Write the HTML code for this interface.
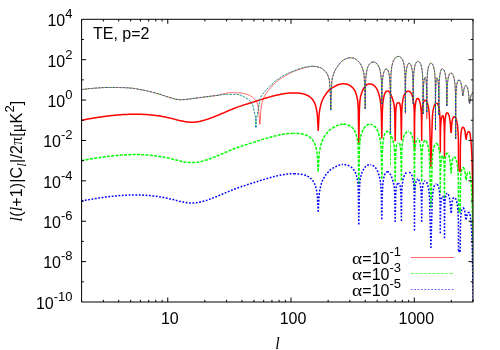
<!DOCTYPE html><html><head><meta charset="utf-8"><style>
html,body{margin:0;padding:0;background:#fff}
#w{position:relative;width:500px;height:350px;overflow:hidden;background:#fff;font-family:"Liberation Sans",sans-serif;color:#000;font-size:16px}
.t{position:absolute;white-space:nowrap;line-height:1}
#tx{position:absolute;left:0;top:0;width:500px;height:350px;will-change:transform;transform:translateZ(0)}
.yl{right:427.5px;text-align:right}
.sy{font-family:"Liberation Serif",serif}
.al{display:inline-block;width:10.1px;text-align:left;transform:scaleX(1.2);transform-origin:0 50%}
.s{font-size:13px;position:relative;top:-8px;line-height:0}
.it{font-family:"Liberation Serif",serif;font-style:italic}
.sub{font-size:13px;position:relative;top:4px;line-height:0}

</style></head><body><div id="w">
<svg width="500" height="350" viewBox="0 0 500 350" style="position:absolute;left:0;top:0">
<defs><clipPath id="c"><rect x="81.60" y="19.30" width="391.40" height="282.70"/></clipPath></defs>
<g clip-path="url(#c)" fill="none" stroke-linejoin="round" stroke-linecap="butt">
<path d="M81.5,120.2L82.5,120.0L83.5,119.9L84.5,119.7L85.5,119.5L86.5,119.3L87.5,119.1L88.5,119.0L89.5,118.8L90.5,118.6L91.5,118.4L92.5,118.3L93.5,118.1L94.5,118.0L95.5,117.8L96.5,117.6L97.5,117.5L98.5,117.3L99.5,117.2L100.5,117.0L101.5,116.9L102.5,116.7L103.5,116.6L104.4,116.5L105.4,116.3L106.4,116.2L107.4,116.1L108.4,116.0L109.4,115.8L110.4,115.7L111.4,115.6L112.4,115.5L113.4,115.4L114.4,115.3L115.4,115.2L116.4,115.1L117.4,115.0L118.4,114.9L119.4,114.8L120.4,114.8L121.4,114.7L122.4,114.6L123.4,114.6L124.4,114.5L125.4,114.5L126.4,114.4L127.4,114.4L128.4,114.3L129.4,114.3L130.4,114.3L131.4,114.2L132.4,114.2L133.4,114.2L134.4,114.2L135.4,114.2L136.4,114.2L137.4,114.2L138.4,114.2L139.4,114.2L140.4,114.3L141.4,114.3L142.4,114.3L143.4,114.4L144.4,114.4L145.4,114.5L146.4,114.6L147.4,114.6L148.3,114.7L149.3,114.8L150.3,114.9L151.3,115.0L152.3,115.1L153.3,115.2L154.3,115.3L155.3,115.4L156.3,115.5L157.3,115.7L158.3,115.8L159.3,116.0L160.3,116.1L161.3,116.3L162.3,116.5L163.3,116.7L164.3,116.8L165.3,117.0L166.3,117.2L167.3,117.5L168.3,117.7L169.3,117.9L170.3,118.1L171.3,118.4L172.3,118.6L173.3,118.9L174.3,119.1L175.3,119.4L176.3,119.7L177.3,119.9L178.3,120.2L179.3,120.4L180.3,120.7L181.3,120.9L182.3,121.1L183.3,121.3L184.3,121.5L185.3,121.7L186.3,121.8L187.3,122.0L188.3,122.1L189.3,122.1L190.3,122.2L191.3,122.2L192.2,122.2L193.2,122.2L194.2,122.2L195.2,122.1L196.2,122.0L197.2,121.8L198.2,121.7L199.2,121.5L200.2,121.3L201.2,121.0L202.2,120.8L203.2,120.5L204.2,120.2L205.2,119.9L206.2,119.6L207.2,119.3L208.2,119.0L209.2,118.6L210.2,118.3L211.2,117.9L212.2,117.5L213.2,117.1L214.2,116.7L215.2,116.3L216.2,115.9L217.2,115.5L218.2,115.1L219.2,114.7L220.2,114.3L221.2,113.8L222.2,113.4L223.2,113.0L224.2,112.6L225.2,112.1L226.2,111.7L227.2,111.3L228.2,110.8L229.2,110.4L230.2,110.0L231.2,109.6L232.2,109.2L233.2,108.8L234.2,108.4L235.2,108.0L236.2,107.6L237.1,107.3L238.1,106.9L239.1,106.6L240.1,106.2L241.1,105.9L242.1,105.6L243.1,105.2L244.1,104.9L245.1,104.6L246.1,104.3L247.1,104.0L248.1,103.7L249.1,103.3L250.1,103.0L251.1,102.7L252.1,102.4L253.1,102.1L254.1,101.8L255.1,101.5L256.1,101.1L257.1,100.8L258.1,100.5L259.1,100.2L260.1,99.9L261.1,99.6L262.1,99.2L263.1,98.9L264.1,98.6L265.1,98.3L266.1,98.0L267.1,97.7L268.1,97.4L269.1,97.1L270.1,96.9L271.1,96.6L272.1,96.3L273.1,96.1L274.1,95.8L275.1,95.6L276.1,95.3L277.1,95.1L278.1,94.9L279.1,94.7L280.1,94.5L281.0,94.3L282.0,94.1L283.0,93.9L284.0,93.7L285.0,93.6L286.0,93.5L287.0,93.3L288.0,93.2L289.0,93.1L290.0,93.1L291.0,93.0L292.0,93.0L293.0,92.9L294.0,92.9M318.2,131.0L317.4,116.0L316.9,111.8L316.4,108.8L315.9,106.7L315.4,105.0L314.9,103.7L314.4,102.6L313.9,101.7L313.4,100.8L312.9,100.0L312.4,99.3L311.9,98.7L311.4,98.2L310.9,97.8L310.4,97.3L310.0,97.0L309.5,96.6L309.0,96.3L308.5,96.0L308.0,95.7L307.5,95.4L307.0,95.2L306.5,95.0L306.0,94.8L305.5,94.6L305.0,94.4L304.5,94.2L304.0,94.0L303.5,93.9L303.0,93.8L302.0,93.6L301.0,93.4L300.0,93.3L299.0,93.2L298.0,93.1L297.0,93.0L296.0,93.0L295.0,92.9L294.0,92.9M318.2,131.0L319.0,116.0L319.5,111.3L320.0,108.4L320.5,106.2L321.0,104.3L321.5,102.5L322.0,101.0L322.5,99.9L323.0,98.8L323.5,97.9L324.0,97.0L324.5,96.2L325.0,95.3L325.5,94.6L326.0,93.8L326.5,93.2L327.0,92.6L327.5,92.0L328.0,91.4L328.5,90.9L328.9,90.4L329.4,89.9L329.9,89.4L330.4,89.1L330.9,88.7L331.4,88.4L331.9,88.0L332.4,87.7L332.9,87.4L333.4,87.2L333.9,86.9L334.4,86.6L334.9,86.3L335.4,86.1L335.9,85.8L336.4,85.5L336.9,85.3L337.4,85.0L337.9,84.8L338.4,84.7L338.9,84.5L339.4,84.4L339.9,84.2L340.4,84.1L340.9,84.0L341.4,83.9L341.9,83.9L342.4,83.8L342.9,83.8M358.8,143.6L358.3,110.0L357.8,101.4L357.3,98.6L356.8,96.5L356.3,94.4L355.8,92.9L355.3,91.7L354.8,90.7L354.3,89.9L353.8,89.1L353.3,88.5L352.8,87.8L352.3,87.3L351.8,86.9L351.3,86.4L350.8,86.1L350.3,85.7L349.8,85.4L349.3,85.2L348.8,84.9L348.4,84.7L347.9,84.5L347.4,84.3L346.9,84.2L346.4,84.1L345.9,84.0L345.4,83.9L344.9,83.9L344.4,83.8L343.9,83.8L343.4,83.8L342.9,83.8M358.8,143.6L359.4,110.0L359.9,100.8L360.4,97.4L360.9,95.4L361.4,93.7L361.9,92.3L362.4,91.0L362.9,89.9L363.4,88.9L363.9,88.0L364.4,87.2L364.9,86.6L365.4,86.0L365.9,85.5L366.4,85.1L366.9,84.7L367.4,84.4L367.9,84.2L368.4,84.1L368.9,84.0L369.4,84.0L369.9,83.9L370.4,83.9M381.8,138.4L381.3,113.0L380.8,104.4L380.3,100.5L379.8,97.8L379.3,95.7L378.8,93.9L378.3,92.3L377.8,91.0L377.3,89.8L376.8,88.9L376.3,88.1L375.8,87.4L375.3,86.8L374.8,86.2L374.3,85.8L373.8,85.3L373.3,85.0L372.8,84.7L372.3,84.5L371.8,84.2L371.3,84.1L370.8,83.9L370.4,83.9M381.8,138.4L382.3,113.0L382.8,103.6L383.3,99.7L383.8,97.1L384.3,95.0L384.8,93.6L385.3,92.5L385.8,91.8L386.3,91.4L386.8,91.1L387.3,90.9L387.8,90.9M395.2,141.3L394.7,113.0L394.2,105.2L393.7,103.0L393.2,101.3L392.7,99.5L392.2,97.8L391.7,96.5L391.2,95.3L390.7,94.2L390.2,93.3L389.7,92.5L389.2,91.8L388.7,91.4L388.3,91.1L387.8,90.9M395.2,141.3L395.7,113.0L396.2,106.8L396.7,104.1L397.3,103.2L397.8,102.8L398.3,102.6M401.4,140.2L400.9,113.0L400.4,106.8L399.9,104.0L399.3,103.0L398.8,102.7L398.3,102.6M401.4,140.2L401.7,112.4L401.9,108.7L402.1,105.7L402.4,103.2L402.7,101.1L403.0,99.3L403.3,97.8L403.7,96.5L404.1,95.3L404.5,94.4L405.0,93.5L405.4,92.9L405.9,92.3L406.4,91.9L406.9,91.5L407.4,91.3L407.9,91.2M414.5,149.7L414.2,111.2L414.0,107.4L413.8,104.5L413.5,102.0L413.2,100.0L412.9,98.3L412.6,96.8L412.2,95.6L411.8,94.5L411.4,93.7L410.9,92.9L410.5,92.3L410.0,91.9L409.5,91.5L409.0,91.3L408.5,91.2L407.9,91.2M414.5,149.7L414.6,122.1L414.7,117.2L414.8,113.5L414.9,110.6L415.0,108.2L415.2,106.2L415.4,104.6L415.6,103.2L415.8,102.0L416.0,101.1L416.2,100.3L416.5,99.6L416.7,99.1L417.0,98.8L417.3,98.5L417.5,98.4L417.8,98.4M421.7,141.0L421.5,121.0L421.4,117.2L421.3,114.1L421.2,111.6L421.0,109.4L420.8,107.6L420.6,106.0L420.4,104.6L420.2,103.4L420.0,102.3L419.7,101.4L419.5,100.7L419.2,100.0L418.9,99.5L418.7,99.0L418.4,98.7L418.1,98.5L417.8,98.4M421.7,141.0L421.8,123.1L421.9,118.2L422.0,114.6L422.1,111.7L422.3,109.3L422.5,107.4L422.7,105.8L422.9,104.5L423.1,103.4L423.4,102.5L423.7,101.8L423.9,101.2L424.2,100.8L424.5,100.5L424.8,100.3L425.2,100.3M430.9,167.3L429.7,124.1L429.6,120.3L429.5,117.2L429.3,114.6L429.1,112.4L428.9,110.5L428.7,108.8L428.5,107.4L428.2,106.1L427.9,105.0L427.7,104.0L427.4,103.1L427.1,102.4L426.8,101.8L426.4,101.3L426.1,100.9L425.8,100.6L425.5,100.4L425.2,100.3M430.9,167.3L432.1,125.0L432.2,121.3L432.4,118.2L432.5,115.7L432.7,113.6L432.9,111.8L433.1,110.2L433.4,108.9L433.6,107.7L433.9,106.7L434.2,105.8L434.5,105.1L434.8,104.5L435.1,104.0L435.4,103.7L435.8,103.4L436.1,103.2L436.4,103.2M440.3,152.4L440.1,122.6L440.0,118.9L439.8,116.0L439.7,113.6L439.5,111.5L439.3,109.9L439.1,108.4L438.8,107.2L438.6,106.2L438.3,105.4L438.0,104.7L437.7,104.2L437.4,103.7L437.1,103.4L436.8,103.3L436.4,103.2M440.3,152.4L440.4,137.8L440.5,134.0L440.5,130.9L440.6,128.4L440.7,126.3L440.8,124.4L440.9,122.9L441.0,121.5L441.2,120.3L441.3,119.3L441.4,118.4L441.6,117.6L441.8,117.0L441.9,116.5L442.1,116.1L442.2,115.8L442.4,115.6L442.6,115.5M444.5,157.5L444.4,139.5L444.4,134.6L444.3,130.9L444.3,127.9L444.2,125.5L444.1,123.5L444.0,121.9L443.9,120.5L443.8,119.3L443.6,118.3L443.5,117.5L443.4,116.8L443.2,116.3L443.0,115.9L442.9,115.7L442.7,115.5L442.6,115.5M444.5,157.5L444.6,135.3L444.7,130.5L444.8,126.8L444.9,123.9L445.0,121.6L445.1,119.7L445.3,118.1L445.5,116.8L445.7,115.7L445.9,114.8L446.1,114.1L446.3,113.5L446.5,113.1L446.8,112.9L447.0,112.7L447.3,112.7M458.5,169.8L458.4,140.4L458.3,136.6L458.1,133.5L458.0,130.9L457.8,128.7L457.7,126.8L457.5,125.2L457.2,123.7L457.0,122.5L456.8,121.3L456.5,120.4L456.3,119.5L456.0,118.8L455.7,118.2L455.4,117.6L455.1,117.2L454.8,117.0L454.5,116.8L454.2,116.7L454.0,116.7L453.7,116.9L453.4,117.2L453.1,117.6L452.9,118.2L452.6,118.9L452.4,119.8L452.2,120.9L452.0,122.2L451.8,123.8L451.6,125.8L451.5,128.1L451.4,131.0L451.1,132.6L450.7,129.8L450.6,127.2L450.5,125.0L450.3,123.1L450.1,121.4L449.9,120.0L449.7,118.7L449.5,117.5L449.3,116.5L449.1,115.7L448.8,114.9L448.6,114.3L448.3,113.7L448.1,113.3L447.8,113.0L447.5,112.8L447.3,112.7M458.5,169.8L460.2,171.8L460.4,146.5L460.5,142.8L460.6,139.8L460.7,137.4L460.8,135.4L461.0,133.7L461.1,132.3L461.3,131.1L461.5,130.1L461.7,129.2L461.9,128.6L462.1,128.0L462.3,127.6L462.5,127.3L462.8,127.2L463.0,127.1M463.0,127.1L463.2,127.2L463.5,127.3L463.7,127.6L463.9,128.0L464.1,128.4L464.4,129.0L464.6,129.8L464.8,130.6L465.0,131.7L465.2,132.8L465.3,134.2L465.5,135.7L465.6,137.6L466.2,139.3L466.8,135.0L467.3,133.2L467.8,132.3L468.3,131.8L468.9,131.7L469.4,131.8L469.9,132.9L470.4,136.6L470.9,140.3L471.4,146.9L472.0,158.9L472.5,179.6L473.0,209.8L473.5,240.0" stroke="#ff0000" stroke-width="1.5"/>
<path d="M81.5,160.6L82.5,160.4L83.5,160.2L84.5,160.1L85.5,159.9L86.5,159.7L87.5,159.5L88.5,159.3L89.5,159.2L90.5,159.0L91.5,158.8L92.5,158.7L93.5,158.5L94.5,158.3L95.5,158.2L96.5,158.0L97.5,157.9L98.5,157.7L99.5,157.6L100.5,157.4L101.5,157.3L102.5,157.1L103.5,157.0L104.4,156.9L105.4,156.7L106.4,156.6L107.4,156.5L108.4,156.3L109.4,156.2L110.4,156.1L111.4,156.0L112.4,155.9L113.4,155.8L114.4,155.7L115.4,155.6L116.4,155.5L117.4,155.4L118.4,155.3L119.4,155.2L120.4,155.2L121.4,155.1L122.4,155.0L123.4,155.0L124.4,154.9L125.4,154.8L126.4,154.8L127.4,154.8L128.4,154.7L129.4,154.7L130.4,154.7L131.4,154.6L132.4,154.6L133.4,154.6L134.4,154.6L135.4,154.6L136.4,154.6L137.4,154.6L138.4,154.6L139.4,154.6L140.4,154.7L141.4,154.7L142.4,154.7L143.4,154.8L144.4,154.8L145.4,154.9L146.4,154.9L147.4,155.0L148.3,155.1L149.3,155.2L150.3,155.3L151.3,155.4L152.3,155.5L153.3,155.6L154.3,155.7L155.3,155.8L156.3,155.9L157.3,156.1L158.3,156.2L159.3,156.4L160.3,156.5L161.3,156.7L162.3,156.9L163.3,157.0L164.3,157.2L165.3,157.4L166.3,157.6L167.3,157.8L168.3,158.1L169.3,158.3L170.3,158.5L171.3,158.8L172.3,159.0L173.3,159.3L174.3,159.5L175.3,159.8L176.3,160.0L177.3,160.3L178.3,160.6L179.3,160.8L180.3,161.1L181.3,161.3L182.3,161.5L183.3,161.7L184.3,161.9L185.3,162.1L186.3,162.2L187.3,162.3L188.3,162.4L189.3,162.5L190.3,162.6L191.3,162.6L192.2,162.6L193.2,162.6L194.2,162.5L195.2,162.5L196.2,162.4L197.2,162.2L198.2,162.1L199.2,161.9L200.2,161.7L201.2,161.4L202.2,161.2L203.2,160.9L204.2,160.6L205.2,160.3L206.2,160.0L207.2,159.7L208.2,159.4L209.2,159.0L210.2,158.7L211.2,158.3L212.2,157.9L213.2,157.5L214.2,157.1L215.2,156.7L216.2,156.3L217.2,155.9L218.2,155.5L219.2,155.1L220.2,154.7L221.2,154.2L222.2,153.8L223.2,153.4L224.2,152.9L225.2,152.5L226.2,152.1L227.2,151.7L228.2,151.2L229.2,150.8L230.2,150.4L231.2,150.0L232.2,149.6L233.2,149.2L234.2,148.8L235.2,148.4L236.2,148.0L237.1,147.7L238.1,147.3L239.1,147.0L240.1,146.6L241.1,146.3L242.1,145.9L243.1,145.6L244.1,145.3L245.1,145.0L246.1,144.7L247.1,144.4L248.1,144.0L249.1,143.7L250.1,143.4L251.1,143.1L252.1,142.8L253.1,142.5L254.1,142.2L255.1,141.8L256.1,141.5L257.1,141.2L258.1,140.9L259.1,140.6L260.1,140.3L261.1,139.9L262.1,139.6L263.1,139.3L264.1,139.0L265.1,138.7L266.1,138.4L267.1,138.1L268.1,137.8L269.1,137.5L270.1,137.3L271.1,137.0L272.1,136.7L273.1,136.4L274.1,136.2L275.1,135.9L276.1,135.7L277.1,135.5L278.1,135.3L279.1,135.0L280.1,134.8L281.0,134.6L282.0,134.5L283.0,134.3L284.0,134.1L285.0,134.0L286.0,133.9L287.0,133.7L288.0,133.6L289.0,133.5L290.0,133.5L291.0,133.4L292.0,133.4L293.0,133.3L294.0,133.3M318.2,171.4L317.4,156.4L316.9,152.2L316.4,149.2L315.9,147.1L315.4,145.4L314.9,144.1L314.4,143.0L313.9,142.0L313.4,141.2L312.9,140.4L312.4,139.7L311.9,139.1L311.4,138.6L310.9,138.1L310.4,137.7L310.0,137.4L309.5,137.0L309.0,136.7L308.5,136.4L308.0,136.1L307.5,135.8L307.0,135.6L306.5,135.4L306.0,135.1L305.5,134.9L305.0,134.8L304.5,134.6L304.0,134.4L303.5,134.3L303.0,134.2L302.0,134.0L301.0,133.8L300.0,133.7L299.0,133.6L298.0,133.5L297.0,133.4L296.0,133.4L295.0,133.3L294.0,133.3M318.2,171.4L319.0,156.4L319.5,151.7L320.0,148.8L320.5,146.6L321.0,144.7L321.5,142.9L322.0,141.4L322.5,140.2L323.0,139.2L323.5,138.3L324.0,137.4L324.5,136.6L325.0,135.7L325.5,135.0L326.0,134.2L326.5,133.6L327.0,133.0L327.5,132.4L328.0,131.8L328.5,131.3L328.9,130.8L329.4,130.3L329.9,129.8L330.4,129.4L330.9,129.1L331.4,128.7L331.9,128.4L332.4,128.1L332.9,127.8L333.4,127.5L333.9,127.3L334.4,127.0L334.9,126.7L335.4,126.5L335.9,126.2L336.4,125.9L336.9,125.7L337.4,125.4L337.9,125.2L338.4,125.0L338.9,124.9L339.4,124.7L339.9,124.6L340.4,124.5L340.9,124.4L341.4,124.3L341.9,124.3L342.4,124.2L342.9,124.2M358.8,184.0L358.3,150.4L357.8,141.8L357.3,139.0L356.8,136.9L356.3,134.8L355.8,133.3L355.3,132.1L354.8,131.1L354.3,130.3L353.8,129.5L353.3,128.8L352.8,128.2L352.3,127.7L351.8,127.2L351.3,126.8L350.8,126.5L350.3,126.1L349.8,125.8L349.3,125.5L348.8,125.3L348.4,125.1L347.9,124.9L347.4,124.7L346.9,124.6L346.4,124.4L345.9,124.4L345.4,124.3L344.9,124.3L344.4,124.2L343.9,124.2L343.4,124.2L342.9,124.2M358.8,184.0L359.4,150.4L359.9,141.2L360.4,137.7L360.9,135.8L361.4,134.1L361.9,132.7L362.4,131.4L362.9,130.3L363.4,129.3L363.9,128.4L364.4,127.6L364.9,127.0L365.4,126.4L365.9,125.9L366.4,125.5L366.9,125.1L367.4,124.8L367.9,124.6L368.4,124.5L368.9,124.4L369.4,124.4L369.9,124.3L370.4,124.3M381.8,178.8L381.3,153.4L380.8,144.8L380.3,140.9L379.8,138.2L379.3,136.0L378.8,134.3L378.3,132.7L377.8,131.4L377.3,130.2L376.8,129.3L376.3,128.5L375.8,127.7L375.3,127.1L374.8,126.6L374.3,126.1L373.8,125.7L373.3,125.4L372.8,125.1L372.3,124.9L371.8,124.6L371.3,124.4L370.8,124.3L370.4,124.3M381.8,178.8L382.3,153.4L382.8,144.0L383.3,140.1L383.8,137.4L384.3,135.3L384.8,134.0L385.3,132.9L385.8,132.2L386.3,131.8L386.8,131.5L387.3,131.3L387.8,131.3M395.2,181.7L394.7,153.4L394.2,145.6L393.7,143.4L393.2,141.7L392.7,139.9L392.2,138.2L391.7,136.9L391.2,135.7L390.7,134.6L390.2,133.7L389.7,132.9L389.2,132.2L388.7,131.8L388.3,131.5L387.8,131.3M395.2,181.7L395.7,153.4L396.2,147.2L396.7,144.4L397.3,143.6L397.8,143.2L398.3,143.0M401.4,180.6L400.9,153.4L400.4,147.2L399.9,144.4L399.3,143.4L398.8,143.1L398.3,143.0M401.4,180.6L401.7,152.8L401.9,149.1L402.1,146.0L402.4,143.6L402.7,141.5L403.0,139.7L403.3,138.2L403.7,136.8L404.1,135.7L404.5,134.7L405.0,133.9L405.4,133.2L405.9,132.7L406.4,132.2L406.9,131.9L407.4,131.7L407.9,131.6M414.5,190.1L414.2,151.6L414.0,147.8L413.8,144.9L413.5,142.4L413.2,140.4L412.9,138.7L412.6,137.2L412.2,136.0L411.8,134.9L411.4,134.0L410.9,133.3L410.5,132.7L410.0,132.3L409.5,131.9L409.0,131.7L408.5,131.6L407.9,131.6M414.5,190.1L414.6,162.5L414.7,157.6L414.8,153.9L414.9,151.0L415.0,148.6L415.2,146.6L415.4,145.0L415.6,143.6L415.8,142.4L416.0,141.5L416.2,140.7L416.5,140.0L416.7,139.5L417.0,139.2L417.3,138.9L417.5,138.8L417.8,138.8M421.7,181.4L421.5,161.4L421.4,157.6L421.3,154.5L421.2,152.0L421.0,149.8L420.8,148.0L420.6,146.4L420.4,145.0L420.2,143.8L420.0,142.7L419.7,141.8L419.5,141.0L419.2,140.4L418.9,139.8L418.7,139.4L418.4,139.1L418.1,138.9L417.8,138.8M421.7,181.4L421.8,163.5L421.9,158.6L422.0,155.0L422.1,152.1L422.3,149.7L422.5,147.8L422.7,146.2L422.9,144.9L423.1,143.8L423.4,142.9L423.7,142.1L423.9,141.6L424.2,141.2L424.5,140.9L424.8,140.7L425.2,140.7M430.9,207.7L429.7,164.5L429.6,160.6L429.5,157.6L429.3,155.0L429.1,152.8L428.9,150.9L428.7,149.2L428.5,147.8L428.2,146.5L427.9,145.4L427.7,144.4L427.4,143.5L427.1,142.8L426.8,142.2L426.4,141.7L426.1,141.2L425.8,141.0L425.5,140.8L425.2,140.7M430.9,207.7L432.1,165.4L432.2,161.6L432.4,158.6L432.5,156.1L432.7,154.0L432.9,152.2L433.1,150.6L433.4,149.3L433.6,148.1L433.9,147.1L434.2,146.2L434.5,145.5L434.8,144.9L435.1,144.4L435.4,144.0L435.8,143.8L436.1,143.6L436.4,143.6M440.3,192.8L440.1,163.0L440.0,159.3L439.8,156.4L439.7,153.9L439.5,151.9L439.3,150.2L439.1,148.8L438.8,147.6L438.6,146.6L438.3,145.8L438.0,145.1L437.7,144.5L437.4,144.1L437.1,143.8L436.8,143.7L436.4,143.6M440.3,192.8L440.4,178.2L440.5,174.4L440.5,171.3L440.6,168.8L440.7,166.7L440.8,164.8L440.9,163.2L441.0,161.9L441.2,160.7L441.3,159.6L441.4,158.8L441.6,158.0L441.8,157.4L441.9,156.9L442.1,156.4L442.2,156.2L442.4,156.0L442.6,155.9M444.5,197.9L444.4,179.8L444.4,175.0L444.3,171.3L444.3,168.3L444.2,165.9L444.1,163.9L444.0,162.3L443.9,160.9L443.8,159.7L443.6,158.7L443.5,157.9L443.4,157.2L443.2,156.7L443.0,156.3L442.9,156.1L442.7,155.9L442.6,155.9M444.5,197.9L444.6,175.7L444.7,170.9L444.8,167.2L444.9,164.3L445.0,162.0L445.1,160.0L445.3,158.5L445.5,157.1L445.7,156.1L445.9,155.2L446.1,154.5L446.3,153.9L446.5,153.5L446.8,153.3L447.0,153.1L447.3,153.1M458.5,210.2L458.4,180.8L458.3,177.0L458.1,173.9L458.0,171.3L457.8,169.1L457.7,167.2L457.5,165.6L457.2,164.1L457.0,162.8L456.8,161.7L456.5,160.7L456.3,159.9L456.0,159.2L455.7,158.5L455.4,158.0L455.1,157.6L454.8,157.3L454.5,157.2L454.2,157.1L454.0,157.1L453.7,157.3L453.4,157.6L453.1,158.0L452.9,158.6L452.6,159.3L452.4,160.2L452.2,161.3L452.0,162.6L451.8,164.2L451.6,166.1L451.5,168.5L451.4,171.4L451.1,173.0L450.7,170.2L450.6,167.6L450.5,165.4L450.3,163.5L450.1,161.8L449.9,160.3L449.7,159.0L449.5,157.9L449.3,156.9L449.1,156.0L448.8,155.3L448.6,154.7L448.3,154.1L448.1,153.7L447.8,153.4L447.5,153.2L447.3,153.1M458.5,210.2L460.2,212.2L460.4,186.9L460.5,183.2L460.6,180.2L460.7,177.8L460.8,175.8L461.0,174.1L461.1,172.7L461.3,171.5L461.5,170.5L461.7,169.6L461.9,169.0L462.1,168.4L462.3,168.0L462.5,167.7L462.8,167.5L463.0,167.5M463.0,167.5L463.2,167.5L463.5,167.7L463.7,168.0L463.9,168.3L464.1,168.8L464.4,169.4L464.6,170.2L464.8,171.0L465.0,172.0L465.2,173.2L465.3,174.6L465.5,176.1L465.6,177.9L466.2,179.7L466.8,175.4L467.3,173.6L467.8,172.7L468.3,172.2L468.9,172.1L469.4,172.2L469.9,173.3L470.4,176.9L470.9,180.7L471.4,187.3L472.0,199.3L472.5,220.0L473.0,250.2L473.5,280.4" stroke="#00ff00" stroke-width="1.5" stroke-dasharray="3 1.3"/>
<path d="M81.5,201.0L82.5,200.8L83.5,200.6L84.5,200.4L85.5,200.3L86.5,200.1L87.5,199.9L88.5,199.7L89.5,199.6L90.5,199.4L91.5,199.2L92.5,199.1L93.5,198.9L94.5,198.7L95.5,198.6L96.5,198.4L97.5,198.2L98.5,198.1L99.5,197.9L100.5,197.8L101.5,197.7L102.5,197.5L103.5,197.4L104.4,197.2L105.4,197.1L106.4,197.0L107.4,196.8L108.4,196.7L109.4,196.6L110.4,196.5L111.4,196.4L112.4,196.3L113.4,196.2L114.4,196.1L115.4,196.0L116.4,195.9L117.4,195.8L118.4,195.7L119.4,195.6L120.4,195.5L121.4,195.5L122.4,195.4L123.4,195.3L124.4,195.3L125.4,195.2L126.4,195.2L127.4,195.1L128.4,195.1L129.4,195.1L130.4,195.0L131.4,195.0L132.4,195.0L133.4,195.0L134.4,195.0L135.4,195.0L136.4,195.0L137.4,195.0L138.4,195.0L139.4,195.0L140.4,195.0L141.4,195.1L142.4,195.1L143.4,195.2L144.4,195.2L145.4,195.3L146.4,195.3L147.4,195.4L148.3,195.5L149.3,195.6L150.3,195.6L151.3,195.7L152.3,195.8L153.3,195.9L154.3,196.1L155.3,196.2L156.3,196.3L157.3,196.5L158.3,196.6L159.3,196.8L160.3,196.9L161.3,197.1L162.3,197.3L163.3,197.4L164.3,197.6L165.3,197.8L166.3,198.0L167.3,198.2L168.3,198.4L169.3,198.7L170.3,198.9L171.3,199.1L172.3,199.4L173.3,199.6L174.3,199.9L175.3,200.2L176.3,200.4L177.3,200.7L178.3,200.9L179.3,201.2L180.3,201.4L181.3,201.7L182.3,201.9L183.3,202.1L184.3,202.3L185.3,202.5L186.3,202.6L187.3,202.7L188.3,202.8L189.3,202.9L190.3,203.0L191.3,203.0L192.2,203.0L193.2,203.0L194.2,202.9L195.2,202.8L196.2,202.7L197.2,202.6L198.2,202.4L199.2,202.3L200.2,202.0L201.2,201.8L202.2,201.6L203.2,201.3L204.2,201.0L205.2,200.7L206.2,200.4L207.2,200.1L208.2,199.7L209.2,199.4L210.2,199.0L211.2,198.7L212.2,198.3L213.2,197.9L214.2,197.5L215.2,197.1L216.2,196.7L217.2,196.3L218.2,195.9L219.2,195.5L220.2,195.0L221.2,194.6L222.2,194.2L223.2,193.8L224.2,193.3L225.2,192.9L226.2,192.5L227.2,192.0L228.2,191.6L229.2,191.2L230.2,190.8L231.2,190.4L232.2,190.0L233.2,189.6L234.2,189.2L235.2,188.8L236.2,188.4L237.1,188.0L238.1,187.7L239.1,187.3L240.1,187.0L241.1,186.7L242.1,186.3L243.1,186.0L244.1,185.7L245.1,185.4L246.1,185.0L247.1,184.7L248.1,184.4L249.1,184.1L250.1,183.8L251.1,183.5L252.1,183.2L253.1,182.9L254.1,182.6L255.1,182.2L256.1,181.9L257.1,181.6L258.1,181.3L259.1,181.0L260.1,180.6L261.1,180.3L262.1,180.0L263.1,179.7L264.1,179.4L265.1,179.1L266.1,178.8L267.1,178.5L268.1,178.2L269.1,177.9L270.1,177.6L271.1,177.4L272.1,177.1L273.1,176.8L274.1,176.6L275.1,176.3L276.1,176.1L277.1,175.9L278.1,175.6L279.1,175.4L280.1,175.2L281.0,175.0L282.0,174.8L283.0,174.7L284.0,174.5L285.0,174.4L286.0,174.2L287.0,174.1L288.0,174.0L289.0,173.9L290.0,173.8L291.0,173.8L292.0,173.7L293.0,173.7L294.0,173.7M318.2,211.8L317.4,196.8L316.9,192.5L316.4,189.6L315.9,187.5L315.4,185.8L314.9,184.5L314.4,183.4L313.9,182.4L313.4,181.6L312.9,180.8L312.4,180.1L311.9,179.5L311.4,179.0L310.9,178.5L310.4,178.1L310.0,177.7L309.5,177.4L309.0,177.1L308.5,176.7L308.0,176.5L307.5,176.2L307.0,176.0L306.5,175.7L306.0,175.5L305.5,175.3L305.0,175.1L304.5,175.0L304.0,174.8L303.5,174.7L303.0,174.6L302.0,174.4L301.0,174.2L300.0,174.1L299.0,174.0L298.0,173.9L297.0,173.8L296.0,173.7L295.0,173.7L294.0,173.7M318.2,211.8L319.0,196.8L319.5,192.1L320.0,189.2L320.5,187.0L321.0,185.0L321.5,183.3L322.0,181.8L322.5,180.6L323.0,179.6L323.5,178.7L324.0,177.8L324.5,176.9L325.0,176.1L325.5,175.3L326.0,174.6L326.5,174.0L327.0,173.3L327.5,172.8L328.0,172.2L328.5,171.7L328.9,171.2L329.4,170.7L329.9,170.2L330.4,169.8L330.9,169.5L331.4,169.1L331.9,168.8L332.4,168.5L332.9,168.2L333.4,167.9L333.9,167.6L334.4,167.4L334.9,167.1L335.4,166.8L335.9,166.6L336.4,166.3L336.9,166.0L337.4,165.8L337.9,165.6L338.4,165.4L338.9,165.3L339.4,165.1L339.9,165.0L340.4,164.9L340.9,164.8L341.4,164.7L341.9,164.6L342.4,164.6L342.9,164.6M358.8,224.4L358.3,190.8L357.8,182.2L357.3,179.4L356.8,177.3L356.3,175.2L355.8,173.7L355.3,172.5L354.8,171.5L354.3,170.7L353.8,169.9L353.3,169.2L352.8,168.6L352.3,168.1L351.8,167.6L351.3,167.2L350.8,166.8L350.3,166.5L349.8,166.2L349.3,165.9L348.8,165.7L348.4,165.5L347.9,165.3L347.4,165.1L346.9,164.9L346.4,164.8L345.9,164.8L345.4,164.7L344.9,164.7L344.4,164.6L343.9,164.6L343.4,164.6L342.9,164.6M358.8,224.4L359.4,190.8L359.9,181.6L360.4,178.1L360.9,176.2L361.4,174.5L361.9,173.0L362.4,171.8L362.9,170.7L363.4,169.6L363.9,168.8L364.4,168.0L364.9,167.3L365.4,166.8L365.9,166.3L366.4,165.9L366.9,165.5L367.4,165.2L367.9,165.0L368.4,164.9L368.9,164.8L369.4,164.7L369.9,164.7L370.4,164.7M381.8,219.2L381.3,193.8L380.8,185.2L380.3,181.3L379.8,178.6L379.3,176.4L378.8,174.6L378.3,173.1L377.8,171.8L377.3,170.6L376.8,169.7L376.3,168.8L375.8,168.1L375.3,167.5L374.8,167.0L374.3,166.5L373.8,166.1L373.3,165.8L372.8,165.5L372.3,165.2L371.8,165.0L371.3,164.8L370.8,164.7L370.4,164.7M381.8,219.2L382.3,193.8L382.8,184.4L383.3,180.5L383.8,177.8L384.3,175.7L384.8,174.3L385.3,173.3L385.8,172.6L386.3,172.2L386.8,171.9L387.3,171.7L387.8,171.7M395.2,222.1L394.7,193.8L394.2,186.0L393.7,183.8L393.2,182.1L392.7,180.3L392.2,178.6L391.7,177.2L391.2,176.0L390.7,175.0L390.2,174.1L389.7,173.3L389.2,172.6L388.7,172.2L388.3,171.9L387.8,171.7M395.2,222.1L395.7,193.8L396.2,187.6L396.7,184.8L397.3,184.0L397.8,183.6L398.3,183.4M401.4,221.0L400.9,193.8L400.4,187.6L399.9,184.8L399.3,183.8L398.8,183.5L398.3,183.4M401.4,221.0L401.7,193.2L401.9,189.5L402.1,186.4L402.4,183.9L402.7,181.8L403.0,180.1L403.3,178.5L403.7,177.2L404.1,176.1L404.5,175.1L405.0,174.3L405.4,173.6L405.9,173.1L406.4,172.6L406.9,172.3L407.4,172.1L407.9,172.0M414.5,230.5L414.2,191.9L414.0,188.2L413.8,185.2L413.5,182.8L413.2,180.8L412.9,179.0L412.6,177.6L412.2,176.4L411.8,175.3L411.4,174.4L410.9,173.7L410.5,173.1L410.0,172.7L409.5,172.3L409.0,172.1L408.5,172.0L407.9,172.0M414.5,230.5L414.6,202.9L414.7,198.0L414.8,194.3L414.9,191.4L415.0,189.0L415.2,187.0L415.4,185.4L415.6,184.0L415.8,182.8L416.0,181.8L416.2,181.0L416.5,180.4L416.7,179.9L417.0,179.6L417.3,179.3L417.5,179.2L417.8,179.2M421.7,221.8L421.5,201.8L421.4,198.0L421.3,194.9L421.2,192.3L421.0,190.2L420.8,188.4L420.6,186.8L420.4,185.4L420.2,184.2L420.0,183.1L419.7,182.2L419.5,181.4L419.2,180.8L418.9,180.2L418.7,179.8L418.4,179.5L418.1,179.3L417.8,179.2M421.7,221.8L421.8,203.9L421.9,199.0L422.0,195.3L422.1,192.4L422.3,190.1L422.5,188.2L422.7,186.6L422.9,185.2L423.1,184.1L423.4,183.2L423.7,182.5L423.9,182.0L424.2,181.5L424.5,181.3L424.8,181.1L425.2,181.1M430.9,248.1L429.7,204.9L429.6,201.0L429.5,197.9L429.3,195.4L429.1,193.2L428.9,191.3L428.7,189.6L428.5,188.1L428.2,186.9L427.9,185.7L427.7,184.8L427.4,183.9L427.1,183.2L426.8,182.6L426.4,182.0L426.1,181.6L425.8,181.3L425.5,181.2L425.2,181.1M430.9,248.1L432.1,205.8L432.2,202.0L432.4,199.0L432.5,196.5L432.7,194.4L432.9,192.5L433.1,191.0L433.4,189.6L433.6,188.5L433.9,187.5L434.2,186.6L434.5,185.9L434.8,185.3L435.1,184.8L435.4,184.4L435.8,184.2L436.1,184.0L436.4,184.0M440.3,233.2L440.1,203.4L440.0,199.7L439.8,196.7L439.7,194.3L439.5,192.3L439.3,190.6L439.1,189.2L438.8,188.0L438.6,187.0L438.3,186.2L438.0,185.5L437.7,184.9L437.4,184.5L437.1,184.2L436.8,184.0L436.4,184.0M440.3,233.2L440.4,218.6L440.5,214.8L440.5,211.7L440.6,209.2L440.7,207.0L440.8,205.2L440.9,203.6L441.0,202.3L441.2,201.1L441.3,200.0L441.4,199.1L441.6,198.4L441.8,197.8L441.9,197.2L442.1,196.8L442.2,196.5L442.4,196.4L442.6,196.3M444.5,238.3L444.4,220.2L444.4,215.3L444.3,211.6L444.3,208.7L444.2,206.3L444.1,204.3L444.0,202.6L443.9,201.2L443.8,200.1L443.6,199.1L443.5,198.3L443.4,197.6L443.2,197.1L443.0,196.7L442.9,196.4L442.7,196.3L442.6,196.3M444.5,238.3L444.6,216.1L444.7,211.2L444.8,207.6L444.9,204.7L445.0,202.3L445.1,200.4L445.3,198.8L445.5,197.5L445.7,196.4L445.9,195.6L446.1,194.8L446.3,194.3L446.5,193.9L446.8,193.6L447.0,193.5L447.3,193.5M458.5,250.6L458.4,221.2L458.3,217.4L458.1,214.3L458.0,211.7L457.8,209.5L457.7,207.6L457.5,205.9L457.2,204.5L457.0,203.2L456.8,202.1L456.5,201.1L456.3,200.3L456.0,199.5L455.7,198.9L455.4,198.4L455.1,198.0L454.8,197.7L454.5,197.5L454.2,197.5L454.0,197.5L453.7,197.7L453.4,198.0L453.1,198.4L452.9,198.9L452.6,199.7L452.4,200.6L452.2,201.7L452.0,203.0L451.8,204.6L451.6,206.5L451.5,208.9L451.4,211.8L451.1,213.4L450.7,210.6L450.6,208.0L450.5,205.8L450.3,203.9L450.1,202.2L449.9,200.7L449.7,199.4L449.5,198.3L449.3,197.3L449.1,196.4L448.8,195.7L448.6,195.0L448.3,194.5L448.1,194.1L447.8,193.8L447.5,193.6L447.3,193.5M458.5,250.6L460.2,252.6L460.4,227.3L460.5,223.5L460.6,220.6L460.7,218.2L460.8,216.2L461.0,214.5L461.1,213.1L461.3,211.9L461.5,210.9L461.7,210.0L461.9,209.3L462.1,208.8L462.3,208.4L462.5,208.1L462.8,207.9L463.0,207.9M463.0,207.9L463.2,207.9L463.5,208.1L463.7,208.3L463.9,208.7L464.1,209.2L464.4,209.8L464.6,210.6L464.8,211.4L465.0,212.4L465.2,213.6L465.3,214.9L465.5,216.5L465.6,218.3L466.2,220.1L466.8,215.8L467.3,214.0L467.8,213.1L468.3,212.6L468.9,212.5L469.4,212.6L469.9,213.7L470.4,217.3L470.9,221.1L471.4,227.7L472.0,239.7L472.5,260.4L473.0,290.5L473.5,320.8" stroke="#0000ff" stroke-width="1.5" stroke-dasharray="1.8 1.6"/>
<path d="M81.5,89.6L82.5,89.5L83.5,89.3L84.5,89.2L85.5,89.1L86.5,89.0L87.5,88.9L88.5,88.7L89.5,88.6L90.5,88.5L91.5,88.5L92.5,88.4L93.5,88.3L94.5,88.2L95.6,88.1L96.6,88.0L97.6,88.0L98.6,87.9L99.6,87.8L100.6,87.8L101.6,87.7L102.6,87.6L103.6,87.6L104.6,87.5L105.6,87.5L106.6,87.5M259.8,124.3L259.0,114.0L258.5,109.3L258.0,106.0L257.5,104.1L257.0,102.8L256.5,101.8L256.0,100.9L255.5,100.2L255.0,99.6L254.5,99.0L254.0,98.5L253.5,98.0L253.0,97.6L252.5,97.2L252.0,96.8L251.5,96.5L251.0,96.2L250.5,95.9L250.0,95.6L249.5,95.4L249.0,95.2L248.5,95.0L248.0,94.8L247.5,94.6L247.0,94.5L246.5,94.3L246.0,94.2L245.5,94.0L245.0,93.9L244.5,93.8L244.0,93.7L243.5,93.5L243.0,93.4L242.5,93.3L242.0,93.3L241.5,93.2L241.0,93.1L240.5,93.0L240.0,93.0L239.5,93.0L239.0,92.9L238.5,92.9L238.0,92.8L237.5,92.8L237.0,92.8L236.5,92.7L236.0,92.7L235.5,92.7L235.0,92.7L234.5,92.6L234.0,92.6L233.5,92.6L233.0,92.6L232.5,92.6L232.0,92.6L231.5,92.6L231.0,92.6L230.5,92.7L230.0,92.7L229.5,92.7L229.0,92.8L228.5,92.9L228.0,92.9L227.5,93.0L227.0,93.1L226.5,93.2L226.0,93.2L225.5,93.3L225.0,93.4L224.5,93.5L224.0,93.6L223.5,93.7L223.0,93.8L222.5,93.9L222.0,94.0L221.5,94.2L221.0,94.3L220.5,94.5L220.0,94.6L220.0,95.0L219.0,95.1L218.0,95.3L217.0,95.4L216.0,95.5L215.0,95.7L214.0,95.8L213.0,95.9L212.0,96.0L211.0,96.2L210.0,96.3L209.0,96.4L208.0,96.6L207.0,96.7L205.9,96.8L204.9,97.0L203.9,97.1L202.9,97.2L201.9,97.3L200.9,97.5L199.9,97.6L198.9,97.7L197.9,97.9L196.9,98.0L195.9,98.1L194.9,98.3L193.9,98.4L192.9,98.5L191.9,98.7L190.9,98.8L189.9,98.9L188.9,99.0L187.9,99.2L186.9,99.3L185.9,99.5L184.9,99.5L183.9,99.6L182.9,99.6L181.9,99.7L180.9,99.7L179.9,99.7L178.9,99.6L177.8,99.5L176.8,99.3L175.8,99.2L174.8,99.0L173.8,98.7L172.8,98.4L171.8,98.1L170.8,97.8L169.8,97.5L168.8,97.2L167.8,96.9L166.8,96.6L165.8,96.3L164.8,95.9L163.8,95.6L162.8,95.3L161.8,95.0L160.8,94.6L159.8,94.3L158.8,94.0L157.8,93.7L156.8,93.4L155.8,93.1L154.8,92.9L153.8,92.6L152.8,92.3L151.8,92.0L150.8,91.8L149.7,91.5L148.7,91.3L147.7,91.1L146.7,90.8L145.7,90.6L144.7,90.4L143.7,90.2L142.7,90.0L141.7,89.8L140.7,89.6L139.7,89.4L138.7,89.3L137.7,89.1L136.7,88.9L135.7,88.7L134.7,88.6L133.7,88.4L132.7,88.3L131.7,88.2L130.7,88.1L129.7,88.0L128.7,87.9L127.7,87.8L126.7,87.8L125.7,87.7L124.7,87.7L123.7,87.6L122.6,87.6L121.6,87.6L120.6,87.6L119.6,87.6L118.6,87.5L117.6,87.5L116.6,87.5L115.6,87.5L114.6,87.5L113.6,87.5L112.6,87.5L111.6,87.5L110.6,87.5L109.6,87.5L108.6,87.5L107.6,87.5L106.6,87.5M259.8,124.3L260.3,119.8L260.8,111.4L261.3,107.0L261.8,104.4L262.3,102.4L262.8,100.5L263.3,99.0L263.8,97.6L264.3,96.5L264.8,95.5L265.3,94.6L265.8,93.8L266.3,93.1L266.8,92.4L267.3,91.7L267.8,91.0L268.3,90.4L268.8,89.8L269.3,89.2L269.8,88.7L270.3,88.2L270.8,87.7L271.3,87.1L271.8,86.6L272.3,86.0L272.8,85.4L273.3,84.7L273.9,84.2L274.4,83.6L274.9,83.2L275.4,82.7L275.9,82.3L276.4,81.9L276.9,81.5L277.4,81.1L277.9,80.7L278.4,80.3L278.9,79.9L279.4,79.6L279.9,79.2L280.4,78.9L280.9,78.5L281.4,78.2L281.9,77.9L282.4,77.6L282.9,77.2L283.4,76.9L283.9,76.6L284.4,76.3L284.9,76.0L285.4,75.7L285.9,75.5L286.4,75.2L286.9,74.9L287.4,74.6L287.9,74.3L288.4,74.0L288.9,73.8L289.4,73.5L289.9,73.2L290.4,73.0L290.9,72.8L291.4,72.5L291.9,72.3L292.4,72.1L292.9,71.9L293.4,71.6L293.9,71.4L294.4,71.2L294.9,71.0L295.4,70.8L295.9,70.6L296.4,70.4L296.9,70.2L297.4,70.0L297.9,69.8L298.4,69.6L298.9,69.4L299.4,69.3L300.0,69.1L300.5,68.9L301.0,68.7L301.5,68.6L302.0,68.4L302.5,68.3L303.0,68.1L303.5,68.0L304.0,67.9L304.5,67.8L305.0,67.6L305.5,67.5L306.0,67.4L306.5,67.3L307.0,67.2L307.5,67.1L308.0,67.0L308.5,66.9L309.0,66.8L309.5,66.7L310.0,66.6L310.5,66.5L311.0,66.5L311.5,66.4L312.0,66.4L312.5,66.3L313.0,66.3M330.8,109.4L330.2,90.0L329.7,83.1L329.2,79.5L328.7,77.6L328.2,76.2L327.7,75.0L327.2,74.0L326.7,73.1L326.2,72.4L325.6,71.8L325.1,71.2L324.6,70.7L324.1,70.3L323.6,69.9L323.1,69.5L322.6,69.1L322.1,68.8L321.6,68.4L321.1,68.1L320.6,67.8L320.1,67.6L319.6,67.5L319.1,67.3L318.6,67.1L318.1,67.0L317.6,66.9L317.0,66.8L316.5,66.7L316.0,66.6L315.5,66.5L315.0,66.5L314.5,66.4L314.0,66.4L313.5,66.3L313.0,66.3M330.8,109.4L331.4,90.0L331.9,80.8L332.4,77.8L332.9,76.2L333.4,74.6L333.9,73.1L334.4,71.8L334.9,70.6L335.4,69.7L335.9,68.9L336.4,68.1L336.9,67.4L337.4,66.7L337.9,65.9L338.4,65.3L338.9,64.6L339.4,63.9L339.8,63.3L340.3,62.7L340.8,62.2L341.3,61.7L341.8,61.3L342.3,60.9L342.8,60.5L343.3,60.2L343.8,59.9L344.3,59.6L344.8,59.3L345.3,59.1L345.8,58.8L346.3,58.6L346.8,58.5L347.3,58.3L347.8,58.1L348.3,57.9L348.8,57.8L349.3,57.8M365.2,108.8L364.7,88.0L364.2,75.6L363.7,72.8L363.2,70.8L362.7,69.0L362.2,67.5L361.7,66.3L361.2,65.2L360.7,64.3L360.2,63.6L359.7,62.9L359.2,62.3L358.7,61.7L358.2,61.2L357.7,60.8L357.2,60.4L356.7,60.0L356.3,59.6L355.8,59.3L355.3,58.9L354.8,58.7L354.3,58.4L353.8,58.2L353.3,58.1L352.8,58.0L352.3,57.9L351.8,57.8L351.3,57.8L350.8,57.8L350.3,57.8L349.8,57.8L349.3,57.8M365.2,108.8L365.6,82.1L365.8,78.4L366.1,75.4L366.4,72.9L366.8,70.9L367.2,69.2L367.6,67.7L368.1,66.5L368.6,65.4L369.2,64.5L369.8,63.8L370.4,63.2L371.0,62.7L371.6,62.4L372.2,62.1L372.9,62.0L373.5,62.0M381.9,104.0L381.5,83.1L381.3,79.3L381.0,76.3L380.7,73.8L380.3,71.8L379.9,70.0L379.5,68.5L379.0,67.2L378.5,66.0L377.9,65.1L377.3,64.3L376.7,63.6L376.1,63.1L375.5,62.6L374.9,62.3L374.2,62.1L373.5,62.0M381.9,104.0L382.1,89.8L382.2,86.0L382.4,83.0L382.5,80.6L382.7,78.5L382.9,76.7L383.1,75.2L383.4,73.9L383.7,72.8L383.9,71.9L384.2,71.1L384.5,70.5L384.8,69.9L385.2,69.5L385.5,69.3L385.8,69.1L386.1,69.0M390.4,133.0L390.2,89.4L390.1,85.7L389.9,82.7L389.8,80.2L389.6,78.2L389.4,76.4L389.2,74.9L388.9,73.7L388.6,72.6L388.4,71.7L388.1,70.9L387.8,70.3L387.5,69.8L387.1,69.4L386.8,69.2L386.5,69.0L386.1,69.0M390.4,133.0L390.8,78.2L391.0,74.4L391.2,71.3L391.5,68.8L391.8,66.7L392.2,64.9L392.6,63.3L393.0,62.0L393.5,60.8L394.0,59.8L394.5,59.0L395.0,58.3L395.6,57.7L396.1,57.2L396.7,56.8L397.3,56.6L397.9,56.4L398.5,56.4M405.4,113.6L405.0,75.9L404.8,72.2L404.6,69.2L404.3,66.8L404.0,64.8L403.6,63.1L403.2,61.7L402.8,60.5L402.3,59.5L401.8,58.6L401.3,57.9L400.8,57.4L400.2,57.0L399.7,56.7L399.1,56.5L398.5,56.4M405.4,113.6L405.6,83.4L405.7,79.6L405.8,76.7L406.0,74.2L406.1,72.2L406.3,70.4L406.5,69.0L406.8,67.7L407.0,66.7L407.3,65.8L407.5,65.0L407.8,64.4L408.1,63.9L408.4,63.6L408.7,63.4L409.0,63.2L409.3,63.2M413.2,103.8L413.0,84.2L412.9,80.5L412.8,77.5L412.6,75.0L412.5,72.9L412.3,71.1L412.1,69.6L411.8,68.3L411.6,67.2L411.3,66.2L411.1,65.4L410.8,64.8L410.5,64.2L410.2,63.8L409.9,63.5L409.6,63.3L409.3,63.2M413.2,103.8L413.4,81.4L413.6,77.7L413.7,74.7L413.9,72.2L414.1,70.2L414.4,68.5L414.6,67.0L414.9,65.8L415.2,64.7L415.6,63.8L415.9,63.1L416.3,62.5L416.6,62.0L417.0,61.7L417.4,61.4L417.8,61.3L418.1,61.3M423.1,114.0L422.9,82.4L422.7,78.6L422.6,75.6L422.4,73.1L422.2,71.1L421.9,69.3L421.7,67.8L421.4,66.5L421.1,65.3L420.7,64.4L420.4,63.6L420.0,62.9L419.7,62.4L419.3,61.9L418.9,61.6L418.5,61.4L418.1,61.3M423.1,114.0L423.2,100.4L423.2,96.5L423.3,93.5L423.4,90.9L423.5,88.7L423.5,86.9L423.6,85.3L423.7,83.8L423.9,82.6L424.0,81.5L424.1,80.6L424.2,79.8L424.4,79.1L424.5,78.5L424.7,78.1L424.8,77.7L424.9,77.5L425.1,77.3L425.2,77.3M426.8,119.0L426.7,100.6L426.7,95.8L426.7,92.1L426.6,89.2L426.5,86.8L426.4,84.8L426.4,83.2L426.3,81.8L426.2,80.7L426.0,79.8L425.9,79.0L425.8,78.4L425.7,77.9L425.5,77.6L425.4,77.4L425.2,77.3M426.8,119.0L427.0,83.2L427.1,79.5L427.3,76.5L427.4,74.1L427.6,72.0L427.8,70.3L428.1,68.9L428.3,67.6L428.6,66.6L428.9,65.7L429.2,65.0L429.5,64.4L429.8,63.9L430.1,63.6L430.5,63.3L430.8,63.2L431.1,63.2M435.5,129.8L435.3,84.4L435.2,80.6L435.0,77.6L434.9,75.1L434.7,73.0L434.5,71.2L434.2,69.7L434.0,68.4L433.7,67.3L433.4,66.3L433.1,65.5L432.8,64.8L432.5,64.3L432.2,63.8L431.8,63.5L431.5,63.3L431.1,63.2M435.5,129.8L435.5,101.5L435.6,96.6L435.6,92.9L435.7,90.0L435.8,87.6L435.8,85.7L435.9,84.0L436.0,82.6L436.1,81.5L436.2,80.5L436.3,79.7L436.4,79.1L436.5,78.6L436.7,78.3L436.8,78.0L436.9,77.9M438.9,115.0L438.8,100.6L438.8,96.8L438.7,93.7L438.6,91.2L438.6,89.0L438.5,87.2L438.4,85.6L438.3,84.2L438.2,83.0L438.1,81.9L438.0,81.0L437.9,80.2L437.7,79.6L437.6,79.0L437.5,78.6L437.3,78.2L437.2,78.0L437.1,77.9L436.9,77.9M438.9,115.0L439.0,92.3L439.1,87.4L439.2,83.7L439.3,80.8L439.5,78.4L439.7,76.5L439.9,74.8L440.1,73.4L440.3,72.3L440.5,71.3L440.8,70.6L441.1,70.0L441.4,69.5L441.7,69.1L442.0,68.9L442.3,68.8M446.9,105.8L446.7,91.7L446.6,87.8L446.5,84.8L446.3,82.2L446.1,80.1L445.9,78.2L445.7,76.6L445.5,75.2L445.3,74.0L445.0,72.9L444.7,72.0L444.4,71.2L444.1,70.5L443.8,70.0L443.5,69.5L443.2,69.2L442.9,68.9L442.6,68.8L442.3,68.8M446.9,105.8L447.1,92.5L447.2,88.8L447.4,85.8L447.5,83.4L447.7,81.4L448.0,79.7L448.2,78.3L448.4,77.1L448.7,76.1L449.0,75.2L449.3,74.5L449.6,74.0L449.9,73.5L450.3,73.3L450.6,73.1L451.0,73.0M455.7,138.8L455.5,94.8L455.4,91.0L455.2,88.0L455.1,85.5L454.9,83.3L454.6,81.5L454.4,80.0L454.2,78.6L453.9,77.5L453.6,76.5L453.3,75.6L453.0,74.9L452.7,74.3L452.3,73.8L452.0,73.4L451.6,73.2L451.3,73.0L451.0,73.0M455.7,138.8L455.9,99.5L456.0,95.7L456.1,92.8L456.2,90.4L456.4,88.4L456.6,86.7L456.7,85.2L456.9,84.0L457.2,83.0L457.4,82.2L457.6,81.5L457.9,81.0L458.2,80.5L458.4,80.2L458.7,80.1L459.0,80.0M459.0,80.0L459.2,80.0L459.5,80.2L459.8,80.5L460.1,80.8L460.3,81.3L460.6,81.9L460.9,82.6L461.1,83.5L461.3,84.5L461.6,85.7L461.8,87.0L461.9,88.6L462.1,90.4L462.3,92.5L462.8,96.0L463.4,93.4L463.6,91.8L463.8,90.4L464.0,89.2L464.2,88.2L464.4,87.4L464.6,86.8L464.9,86.3L465.1,85.9L465.4,85.7L465.6,85.5L465.9,85.5L466.1,85.6L466.4,85.8L466.7,86.1L466.9,86.5L467.2,87.0L467.4,87.7L467.7,88.5L467.9,89.4L468.1,90.4L468.3,91.6L468.5,93.0L468.7,94.6L468.9,96.4L469.0,98.6L469.1,101.1L469.5,103.8L470.2,101.0L470.4,99.5L470.6,98.2L470.7,97.1L470.9,96.1L471.1,95.3L471.4,94.6L471.6,94.1L471.8,93.6L472.0,93.3L472.3,93.1L472.5,93.0L472.7,93.0L473.0,93.1L473.2,93.4L473.4,93.7L473.6,94.2L473.9,94.8L474.1,95.5L474.3,96.4L474.4,97.4L474.6,98.7L474.8,100.1L474.9,101.9L475.1,103.9L475.2,106.3L475.3,109.3L475.4,113.1L475.5,130.0" stroke="#ff0000" stroke-width="0.6"/>
<path d="M81.5,89.6L82.5,89.5L83.5,89.3L84.5,89.2L85.5,89.1L86.5,89.0L87.5,88.9L88.5,88.7L89.5,88.6L90.5,88.5L91.5,88.5L92.5,88.4L93.5,88.3L94.5,88.2L95.6,88.1L96.6,88.0L97.6,88.0L98.6,87.9L99.6,87.8L100.6,87.8L101.6,87.7L102.6,87.6L103.6,87.6L104.6,87.5L105.6,87.5L106.6,87.5M255.9,127.3L255.4,116.4L254.9,114.5L254.4,112.4L253.9,110.0L253.4,107.5L252.9,105.7L252.4,104.5L251.9,103.4L251.4,102.6L250.9,101.9L250.4,101.3L249.9,100.8L249.4,100.3L248.9,99.9L248.4,99.5L247.9,99.1L247.4,98.8L246.9,98.5L246.4,98.1L245.9,97.8L245.4,97.6L244.9,97.3L244.4,97.0L243.9,96.8L243.4,96.5L242.9,96.2L242.4,96.0L241.9,95.7L241.4,95.5L240.9,95.3L240.4,95.1L239.9,95.0L239.4,94.9L238.9,94.8L238.4,94.7L237.9,94.6L237.5,94.5L237.0,94.4L236.5,94.4L236.0,94.4L235.5,94.4L235.0,94.4L234.5,94.4L234.0,94.4L233.5,94.4L233.0,94.4L232.5,94.4L232.0,94.4L231.5,94.4L231.0,94.4L230.5,94.4L230.0,94.4L229.5,94.4L229.0,94.4L228.5,94.4L228.0,94.4L227.5,94.4L227.0,94.4L226.5,94.4L226.0,94.5L225.5,94.5L225.0,94.5L224.5,94.5L224.0,94.6L223.5,94.6L223.0,94.7L222.5,94.7L222.0,94.8L221.5,94.8L221.0,94.9L220.5,94.9L220.0,95.0L219.0,95.1L218.0,95.3L217.0,95.4L216.0,95.5L215.0,95.7L214.0,95.8L213.0,95.9L212.0,96.0L211.0,96.2L210.0,96.3L209.0,96.4L208.0,96.6L207.0,96.7L205.9,96.8L204.9,97.0L203.9,97.1L202.9,97.2L201.9,97.3L200.9,97.5L199.9,97.6L198.9,97.7L197.9,97.9L196.9,98.0L195.9,98.1L194.9,98.3L193.9,98.4L192.9,98.5L191.9,98.7L190.9,98.8L189.9,98.9L188.9,99.0L187.9,99.2L186.9,99.3L185.9,99.5L184.9,99.5L183.9,99.6L182.9,99.6L181.9,99.7L180.9,99.7L179.9,99.7L178.9,99.6L177.8,99.5L176.8,99.3L175.8,99.2L174.8,99.0L173.8,98.7L172.8,98.4L171.8,98.1L170.8,97.8L169.8,97.5L168.8,97.2L167.8,96.9L166.8,96.6L165.8,96.3L164.8,95.9L163.8,95.6L162.8,95.3L161.8,95.0L160.8,94.6L159.8,94.3L158.8,94.0L157.8,93.7L156.8,93.4L155.8,93.1L154.8,92.9L153.8,92.6L152.8,92.3L151.8,92.0L150.8,91.8L149.7,91.5L148.7,91.3L147.7,91.1L146.7,90.8L145.7,90.6L144.7,90.4L143.7,90.2L142.7,90.0L141.7,89.8L140.7,89.6L139.7,89.4L138.7,89.3L137.7,89.1L136.7,88.9L135.7,88.7L134.7,88.6L133.7,88.4L132.7,88.3L131.7,88.2L130.7,88.1L129.7,88.0L128.7,87.9L127.7,87.8L126.7,87.8L125.7,87.7L124.7,87.7L123.7,87.6L122.6,87.6L121.6,87.6L120.6,87.6L119.6,87.6L118.6,87.5L117.6,87.5L116.6,87.5L115.6,87.5L114.6,87.5L113.6,87.5L112.6,87.5L111.6,87.5L110.6,87.5L109.6,87.5L108.6,87.5L107.6,87.5L106.6,87.5M255.9,127.3L256.4,119.2L256.9,116.6L257.4,114.0L257.9,111.5L258.4,109.1L258.9,106.0L259.4,102.6L259.9,99.5L260.4,98.1L260.9,96.9L261.4,95.9L261.9,95.1L262.4,94.4L262.9,93.8L263.4,93.1L263.9,92.5L264.4,91.9L264.9,91.2L265.4,90.7L265.9,90.1L266.4,89.6L266.9,89.1L267.4,88.6L267.9,88.1L268.4,87.6L268.9,87.1L269.4,86.7L269.9,86.3L270.4,85.9L270.9,85.4L271.4,85.0L271.9,84.5L272.4,83.9L272.9,83.3L273.4,82.6L273.9,82.1L274.4,81.6L274.9,81.2L275.4,80.9L275.9,80.5L276.4,80.2L276.9,79.9L277.4,79.6L277.9,79.2L278.4,78.9L278.9,78.5L279.4,78.2L279.9,77.8L280.4,77.4L280.9,77.1L281.4,76.7L281.9,76.4L282.4,76.1L282.9,75.9L283.4,75.6L283.9,75.4L284.4,75.1L285.0,74.9L285.5,74.7L286.0,74.4L286.5,74.2L287.0,73.9L287.5,73.7L288.0,73.4L288.5,73.1L289.0,72.9L289.5,72.6L290.0,72.4L290.5,72.2L291.0,72.0L291.5,71.8L292.0,71.6L292.5,71.4L293.0,71.2L293.5,71.0L294.0,70.8L294.5,70.6L295.0,70.4L295.5,70.2L296.0,70.0L296.5,69.8L297.0,69.6L297.5,69.4L298.0,69.2L298.5,69.0L299.0,68.9L299.5,68.7L300.0,68.6L300.5,68.4L301.0,68.3L301.5,68.1L302.0,68.0L302.5,67.9L303.0,67.7L303.5,67.6L304.0,67.5L304.5,67.3L305.0,67.2L305.5,67.1L306.0,67.0L306.5,66.9L307.0,66.8L307.5,66.7L308.0,66.6L308.5,66.6L309.0,66.5L309.5,66.4L310.0,66.4L310.5,66.4L311.0,66.4L311.5,66.3L312.0,66.3L312.5,66.3L313.0,66.3M330.8,110.2L330.2,90.0L329.7,83.1L329.2,79.5L328.7,77.6L328.2,76.2L327.7,75.0L327.2,74.0L326.7,73.1L326.2,72.4L325.6,71.8L325.1,71.2L324.6,70.7L324.1,70.3L323.6,69.9L323.1,69.5L322.6,69.1L322.1,68.8L321.6,68.4L321.1,68.1L320.6,67.8L320.1,67.6L319.6,67.5L319.1,67.3L318.6,67.1L318.1,67.0L317.6,66.9L317.0,66.8L316.5,66.7L316.0,66.6L315.5,66.5L315.0,66.5L314.5,66.4L314.0,66.4L313.5,66.3L313.0,66.3M330.8,110.2L331.4,90.0L331.9,80.8L332.4,77.8L332.9,76.2L333.4,74.6L333.9,73.1L334.4,71.8L334.9,70.6L335.4,69.7L335.9,68.9L336.4,68.1L336.9,67.4L337.4,66.7L337.9,65.9L338.4,65.3L338.9,64.6L339.4,63.9L339.8,63.3L340.3,62.7L340.8,62.2L341.3,61.7L341.8,61.3L342.3,60.9L342.8,60.5L343.3,60.2L343.8,59.9L344.3,59.6L344.8,59.3L345.3,59.1L345.8,58.8L346.3,58.6L346.8,58.5L347.3,58.3L347.8,58.1L348.3,57.9L348.8,57.8L349.3,57.8M365.2,108.8L364.7,88.0L364.2,75.6L363.7,72.8L363.2,70.8L362.7,69.0L362.2,67.5L361.7,66.3L361.2,65.2L360.7,64.3L360.2,63.6L359.7,62.9L359.2,62.3L358.7,61.7L358.2,61.2L357.7,60.8L357.2,60.4L356.7,60.0L356.3,59.6L355.8,59.3L355.3,58.9L354.8,58.7L354.3,58.4L353.8,58.2L353.3,58.1L352.8,58.0L352.3,57.9L351.8,57.8L351.3,57.8L350.8,57.8L350.3,57.8L349.8,57.8L349.3,57.8M365.2,108.8L365.6,82.1L365.8,78.4L366.1,75.4L366.4,72.9L366.8,70.9L367.2,69.2L367.6,67.7L368.1,66.5L368.6,65.4L369.2,64.5L369.8,63.8L370.4,63.2L371.0,62.7L371.6,62.4L372.2,62.1L372.9,62.0L373.5,62.0M381.9,104.0L381.5,83.1L381.3,79.3L381.0,76.3L380.7,73.8L380.3,71.8L379.9,70.0L379.5,68.5L379.0,67.2L378.5,66.0L377.9,65.1L377.3,64.3L376.7,63.6L376.1,63.1L375.5,62.6L374.9,62.3L374.2,62.1L373.5,62.0M381.9,104.0L382.1,89.6L382.2,85.8L382.4,82.9L382.5,80.4L382.7,78.3L382.9,76.6L383.2,75.1L383.4,73.8L383.7,72.7L384.0,71.8L384.2,71.0L384.6,70.4L384.9,69.9L385.2,69.5L385.5,69.2L385.9,69.1L386.2,69.0M390.5,165.0L390.3,89.6L390.2,85.8L390.0,82.9L389.9,80.4L389.7,78.3L389.5,76.6L389.2,75.1L389.0,73.8L388.7,72.7L388.4,71.8L388.2,71.0L387.8,70.4L387.5,69.9L387.2,69.5L386.9,69.2L386.5,69.1L386.2,69.0M390.5,165.0L390.9,78.0L391.1,74.3L391.3,71.2L391.6,68.7L391.9,66.6L392.3,64.8L392.7,63.3L393.1,61.9L393.6,60.8L394.1,59.8L394.6,58.9L395.1,58.2L395.6,57.6L396.2,57.2L396.8,56.8L397.4,56.6L397.9,56.4L398.5,56.4M405.4,112.2L405.0,76.0L404.8,72.3L404.6,69.3L404.3,66.9L404.0,64.9L403.6,63.2L403.2,61.8L402.8,60.5L402.3,59.5L401.8,58.7L401.3,58.0L400.8,57.4L400.3,57.0L399.7,56.7L399.1,56.5L398.5,56.4M405.4,112.2L405.6,83.4L405.7,79.6L405.8,76.7L406.0,74.2L406.1,72.2L406.3,70.4L406.5,69.0L406.8,67.7L407.0,66.7L407.3,65.8L407.5,65.0L407.8,64.4L408.1,63.9L408.4,63.6L408.7,63.4L409.0,63.2L409.3,63.2M413.2,103.8L413.0,84.2L412.9,80.5L412.8,77.5L412.6,75.0L412.5,72.9L412.3,71.1L412.1,69.6L411.8,68.3L411.6,67.2L411.3,66.2L411.1,65.4L410.8,64.8L410.5,64.2L410.2,63.8L409.9,63.5L409.6,63.3L409.3,63.2M413.2,103.8L413.4,81.4L413.6,77.7L413.7,74.7L413.9,72.2L414.1,70.2L414.4,68.5L414.6,67.0L414.9,65.8L415.2,64.7L415.6,63.8L415.9,63.1L416.3,62.5L416.6,62.0L417.0,61.7L417.4,61.4L417.8,61.3L418.1,61.3M423.1,114.0L422.9,82.4L422.7,78.6L422.6,75.6L422.4,73.1L422.2,71.1L421.9,69.3L421.7,67.8L421.4,66.5L421.1,65.3L420.7,64.4L420.4,63.6L420.0,62.9L419.7,62.4L419.3,61.9L418.9,61.6L418.5,61.4L418.1,61.3M423.1,114.0L423.2,100.4L423.2,96.5L423.3,93.5L423.4,90.9L423.5,88.7L423.5,86.9L423.6,85.3L423.7,83.8L423.9,82.6L424.0,81.5L424.1,80.6L424.2,79.8L424.4,79.1L424.5,78.5L424.7,78.1L424.8,77.7L424.9,77.5L425.1,77.3L425.2,77.3M426.8,112.0L426.7,100.6L426.7,95.8L426.7,92.1L426.6,89.2L426.5,86.8L426.4,84.8L426.4,83.2L426.3,81.8L426.2,80.7L426.0,79.8L425.9,79.0L425.8,78.4L425.7,77.9L425.5,77.6L425.4,77.4L425.2,77.3M426.8,112.0L427.0,83.2L427.1,79.5L427.3,76.5L427.4,74.1L427.6,72.0L427.8,70.3L428.1,68.9L428.3,67.6L428.6,66.6L428.9,65.7L429.2,65.0L429.5,64.4L429.8,63.9L430.1,63.6L430.5,63.3L430.8,63.2L431.1,63.2M435.5,129.8L435.3,84.4L435.2,80.6L435.0,77.6L434.9,75.1L434.7,73.0L434.5,71.2L434.2,69.7L434.0,68.4L433.7,67.3L433.4,66.3L433.1,65.5L432.8,64.8L432.5,64.3L432.2,63.8L431.8,63.5L431.5,63.3L431.1,63.2M435.5,129.8L435.5,101.5L435.6,96.6L435.6,92.9L435.7,90.0L435.8,87.6L435.8,85.7L435.9,84.0L436.0,82.6L436.1,81.5L436.2,80.5L436.3,79.7L436.4,79.1L436.5,78.6L436.7,78.3L436.8,78.0L436.9,77.9M438.9,115.0L438.8,100.6L438.8,96.8L438.7,93.7L438.6,91.2L438.6,89.0L438.5,87.2L438.4,85.6L438.3,84.2L438.2,83.0L438.1,81.9L438.0,81.0L437.9,80.2L437.7,79.6L437.6,79.0L437.5,78.6L437.3,78.2L437.2,78.0L437.1,77.9L436.9,77.9M438.9,115.0L439.0,92.3L439.1,87.4L439.2,83.7L439.3,80.8L439.5,78.4L439.7,76.5L439.9,74.8L440.1,73.4L440.3,72.3L440.5,71.3L440.8,70.6L441.1,70.0L441.4,69.5L441.7,69.1L442.0,68.9L442.3,68.8M446.9,105.8L446.7,91.7L446.6,87.8L446.5,84.8L446.3,82.2L446.1,80.1L445.9,78.2L445.7,76.6L445.5,75.2L445.3,74.0L445.0,72.9L444.7,72.0L444.4,71.2L444.1,70.5L443.8,70.0L443.5,69.5L443.2,69.2L442.9,68.9L442.6,68.8L442.3,68.8M446.9,105.8L447.1,92.5L447.2,88.8L447.4,85.8L447.5,83.4L447.7,81.4L448.0,79.7L448.2,78.3L448.4,77.1L448.7,76.1L449.0,75.2L449.3,74.5L449.6,74.0L449.9,73.5L450.3,73.3L450.6,73.1L451.0,73.0M455.7,138.8L455.5,94.8L455.4,91.0L455.2,88.0L455.1,85.5L454.9,83.3L454.6,81.5L454.4,80.0L454.2,78.6L453.9,77.5L453.6,76.5L453.3,75.6L453.0,74.9L452.7,74.3L452.3,73.8L452.0,73.4L451.6,73.2L451.3,73.0L451.0,73.0M455.7,138.8L455.9,99.5L456.0,95.7L456.1,92.8L456.2,90.4L456.4,88.4L456.6,86.7L456.7,85.2L456.9,84.0L457.2,83.0L457.4,82.2L457.6,81.5L457.9,81.0L458.2,80.5L458.4,80.2L458.7,80.1L459.0,80.0M459.0,80.0L459.2,80.0L459.5,80.2L459.8,80.5L460.1,80.8L460.3,81.3L460.6,81.9L460.9,82.6L461.1,83.5L461.3,84.5L461.6,85.7L461.8,87.0L461.9,88.6L462.1,90.4L462.3,92.5L462.8,96.0L463.4,93.4L463.6,91.8L463.8,90.4L464.0,89.2L464.2,88.2L464.4,87.4L464.6,86.8L464.9,86.3L465.1,85.9L465.4,85.7L465.6,85.5L465.9,85.5L466.1,85.6L466.4,85.8L466.7,86.1L466.9,86.5L467.2,87.0L467.4,87.7L467.7,88.5L467.9,89.4L468.1,90.4L468.3,91.6L468.5,93.0L468.7,94.6L468.9,96.4L469.0,98.6L469.1,101.1L469.5,103.8L470.2,101.0L470.4,99.5L470.6,98.2L470.7,97.1L470.9,96.1L471.1,95.3L471.4,94.6L471.6,94.1L471.8,93.6L472.0,93.3L472.3,93.1L472.5,93.0L472.7,93.0L473.0,93.1L473.2,93.4L473.4,93.7L473.6,94.2L473.9,94.8L474.1,95.5L474.3,96.4L474.4,97.4L474.6,98.7L474.8,100.1L474.9,101.9L475.1,103.9L475.2,106.3L475.3,109.3L475.4,113.1L475.5,130.0" stroke="#00ff00" stroke-width="0.6" stroke-dasharray="3 1.3"/>
<path d="M81.5,89.6L82.5,89.5L83.5,89.3L84.5,89.2L85.5,89.1L86.5,89.0L87.5,88.9L88.5,88.7L89.5,88.6L90.5,88.5L91.5,88.5L92.5,88.4L93.5,88.3L94.5,88.2L95.6,88.1L96.6,88.0L97.6,88.0L98.6,87.9L99.6,87.8L100.6,87.8L101.6,87.7L102.6,87.6L103.6,87.6L104.6,87.5L105.6,87.5L106.6,87.5M255.9,127.3L255.4,116.4L254.9,114.5L254.4,112.4L253.9,110.0L253.4,107.5L252.9,105.7L252.4,104.5L251.9,103.4L251.4,102.6L250.9,101.9L250.4,101.3L249.9,100.8L249.4,100.3L248.9,99.9L248.4,99.5L247.9,99.1L247.4,98.8L246.9,98.5L246.4,98.1L245.9,97.8L245.4,97.6L244.9,97.3L244.4,97.0L243.9,96.8L243.4,96.5L242.9,96.2L242.4,96.0L241.9,95.7L241.4,95.5L240.9,95.3L240.4,95.1L239.9,95.0L239.4,94.9L238.9,94.8L238.4,94.7L237.9,94.6L237.5,94.5L237.0,94.4L236.5,94.4L236.0,94.4L235.5,94.4L235.0,94.4L234.5,94.4L234.0,94.4L233.5,94.4L233.0,94.4L232.5,94.4L232.0,94.4L231.5,94.4L231.0,94.4L230.5,94.4L230.0,94.4L229.5,94.4L229.0,94.4L228.5,94.4L228.0,94.4L227.5,94.4L227.0,94.4L226.5,94.4L226.0,94.5L225.5,94.5L225.0,94.5L224.5,94.5L224.0,94.6L223.5,94.6L223.0,94.7L222.5,94.7L222.0,94.8L221.5,94.8L221.0,94.9L220.5,94.9L220.0,95.0L219.0,95.1L218.0,95.3L217.0,95.4L216.0,95.5L215.0,95.7L214.0,95.8L213.0,95.9L212.0,96.0L211.0,96.2L210.0,96.3L209.0,96.4L208.0,96.6L207.0,96.7L205.9,96.8L204.9,97.0L203.9,97.1L202.9,97.2L201.9,97.3L200.9,97.5L199.9,97.6L198.9,97.7L197.9,97.9L196.9,98.0L195.9,98.1L194.9,98.3L193.9,98.4L192.9,98.5L191.9,98.7L190.9,98.8L189.9,98.9L188.9,99.0L187.9,99.2L186.9,99.3L185.9,99.5L184.9,99.5L183.9,99.6L182.9,99.6L181.9,99.7L180.9,99.7L179.9,99.7L178.9,99.6L177.8,99.5L176.8,99.3L175.8,99.2L174.8,99.0L173.8,98.7L172.8,98.4L171.8,98.1L170.8,97.8L169.8,97.5L168.8,97.2L167.8,96.9L166.8,96.6L165.8,96.3L164.8,95.9L163.8,95.6L162.8,95.3L161.8,95.0L160.8,94.6L159.8,94.3L158.8,94.0L157.8,93.7L156.8,93.4L155.8,93.1L154.8,92.9L153.8,92.6L152.8,92.3L151.8,92.0L150.8,91.8L149.7,91.5L148.7,91.3L147.7,91.1L146.7,90.8L145.7,90.6L144.7,90.4L143.7,90.2L142.7,90.0L141.7,89.8L140.7,89.6L139.7,89.4L138.7,89.3L137.7,89.1L136.7,88.9L135.7,88.7L134.7,88.6L133.7,88.4L132.7,88.3L131.7,88.2L130.7,88.1L129.7,88.0L128.7,87.9L127.7,87.8L126.7,87.8L125.7,87.7L124.7,87.7L123.7,87.6L122.6,87.6L121.6,87.6L120.6,87.6L119.6,87.6L118.6,87.5L117.6,87.5L116.6,87.5L115.6,87.5L114.6,87.5L113.6,87.5L112.6,87.5L111.6,87.5L110.6,87.5L109.6,87.5L108.6,87.5L107.6,87.5L106.6,87.5M255.9,127.3L256.4,119.2L256.9,116.6L257.4,114.0L257.9,111.5L258.4,109.1L258.9,106.0L259.4,102.6L259.9,99.5L260.4,98.1L260.9,96.9L261.4,95.9L261.9,95.1L262.4,94.4L262.9,93.8L263.4,93.1L263.9,92.5L264.4,91.9L264.9,91.2L265.4,90.7L265.9,90.1L266.4,89.6L266.9,89.1L267.4,88.6L267.9,88.1L268.4,87.6L268.9,87.1L269.4,86.7L269.9,86.3L270.4,85.9L270.9,85.4L271.4,85.0L271.9,84.5L272.4,83.9L272.9,83.3L273.4,82.6L273.9,82.1L274.4,81.6L274.9,81.2L275.4,80.9L275.9,80.5L276.4,80.2L276.9,79.9L277.4,79.6L277.9,79.2L278.4,78.9L278.9,78.5L279.4,78.2L279.9,77.8L280.4,77.4L280.9,77.1L281.4,76.7L281.9,76.4L282.4,76.1L282.9,75.9L283.4,75.6L283.9,75.4L284.4,75.1L285.0,74.9L285.5,74.7L286.0,74.4L286.5,74.2L287.0,73.9L287.5,73.7L288.0,73.4L288.5,73.1L289.0,72.9L289.5,72.6L290.0,72.4L290.5,72.2L291.0,72.0L291.5,71.8L292.0,71.6L292.5,71.4L293.0,71.2L293.5,71.0L294.0,70.8L294.5,70.6L295.0,70.4L295.5,70.2L296.0,70.0L296.5,69.8L297.0,69.6L297.5,69.4L298.0,69.2L298.5,69.0L299.0,68.9L299.5,68.7L300.0,68.6L300.5,68.4L301.0,68.3L301.5,68.1L302.0,68.0L302.5,67.9L303.0,67.7L303.5,67.6L304.0,67.5L304.5,67.3L305.0,67.2L305.5,67.1L306.0,67.0L306.5,66.9L307.0,66.8L307.5,66.7L308.0,66.6L308.5,66.6L309.0,66.5L309.5,66.4L310.0,66.4L310.5,66.4L311.0,66.4L311.5,66.3L312.0,66.3L312.5,66.3L313.0,66.3M330.8,110.2L330.2,90.0L329.7,83.1L329.2,79.5L328.7,77.6L328.2,76.2L327.7,75.0L327.2,74.0L326.7,73.1L326.2,72.4L325.6,71.8L325.1,71.2L324.6,70.7L324.1,70.3L323.6,69.9L323.1,69.5L322.6,69.1L322.1,68.8L321.6,68.4L321.1,68.1L320.6,67.8L320.1,67.6L319.6,67.5L319.1,67.3L318.6,67.1L318.1,67.0L317.6,66.9L317.0,66.8L316.5,66.7L316.0,66.6L315.5,66.5L315.0,66.5L314.5,66.4L314.0,66.4L313.5,66.3L313.0,66.3M330.8,110.2L331.4,90.0L331.9,80.8L332.4,77.8L332.9,76.2L333.4,74.6L333.9,73.1L334.4,71.8L334.9,70.6L335.4,69.7L335.9,68.9L336.4,68.1L336.9,67.4L337.4,66.7L337.9,65.9L338.4,65.3L338.9,64.6L339.4,63.9L339.8,63.3L340.3,62.7L340.8,62.2L341.3,61.7L341.8,61.3L342.3,60.9L342.8,60.5L343.3,60.2L343.8,59.9L344.3,59.6L344.8,59.3L345.3,59.1L345.8,58.8L346.3,58.6L346.8,58.5L347.3,58.3L347.8,58.1L348.3,57.9L348.8,57.8L349.3,57.8M365.2,108.8L364.7,88.0L364.2,75.6L363.7,72.8L363.2,70.8L362.7,69.0L362.2,67.5L361.7,66.3L361.2,65.2L360.7,64.3L360.2,63.6L359.7,62.9L359.2,62.3L358.7,61.7L358.2,61.2L357.7,60.8L357.2,60.4L356.7,60.0L356.3,59.6L355.8,59.3L355.3,58.9L354.8,58.7L354.3,58.4L353.8,58.2L353.3,58.1L352.8,58.0L352.3,57.9L351.8,57.8L351.3,57.8L350.8,57.8L350.3,57.8L349.8,57.8L349.3,57.8M365.2,108.8L365.6,82.1L365.8,78.4L366.1,75.4L366.4,72.9L366.8,70.9L367.2,69.2L367.6,67.7L368.1,66.5L368.6,65.4L369.2,64.5L369.8,63.8L370.4,63.2L371.0,62.7L371.6,62.4L372.2,62.1L372.9,62.0L373.5,62.0M381.9,104.0L381.5,83.1L381.3,79.3L381.0,76.3L380.7,73.8L380.3,71.8L379.9,70.0L379.5,68.5L379.0,67.2L378.5,66.0L377.9,65.1L377.3,64.3L376.7,63.6L376.1,63.1L375.5,62.6L374.9,62.3L374.2,62.1L373.5,62.0M381.9,104.0L382.1,89.8L382.2,86.0L382.4,83.0L382.5,80.6L382.7,78.5L382.9,76.7L383.1,75.2L383.4,73.9L383.7,72.8L383.9,71.9L384.2,71.1L384.5,70.5L384.8,69.9L385.2,69.5L385.5,69.3L385.8,69.1L386.1,69.0M390.4,133.0L390.2,89.4L390.1,85.7L389.9,82.7L389.8,80.2L389.6,78.2L389.4,76.4L389.2,74.9L388.9,73.7L388.6,72.6L388.4,71.7L388.1,70.9L387.8,70.3L387.5,69.8L387.1,69.4L386.8,69.2L386.5,69.0L386.1,69.0M390.4,133.0L390.8,78.2L391.0,74.4L391.2,71.3L391.5,68.8L391.8,66.7L392.2,64.9L392.6,63.3L393.0,62.0L393.5,60.8L394.0,59.8L394.5,59.0L395.0,58.3L395.6,57.7L396.1,57.2L396.7,56.8L397.3,56.6L397.9,56.4L398.5,56.4M405.4,112.2L405.0,75.9L404.8,72.2L404.6,69.2L404.3,66.8L404.0,64.8L403.6,63.1L403.2,61.7L402.8,60.5L402.3,59.5L401.8,58.6L401.3,57.9L400.8,57.4L400.2,57.0L399.7,56.7L399.1,56.5L398.5,56.4M405.4,112.2L405.6,83.4L405.7,79.6L405.8,76.7L406.0,74.2L406.1,72.2L406.3,70.4L406.5,69.0L406.8,67.7L407.0,66.7L407.3,65.8L407.5,65.0L407.8,64.4L408.1,63.9L408.4,63.6L408.7,63.4L409.0,63.2L409.3,63.2M413.2,103.8L413.0,84.2L412.9,80.5L412.8,77.5L412.6,75.0L412.5,72.9L412.3,71.1L412.1,69.6L411.8,68.3L411.6,67.2L411.3,66.2L411.1,65.4L410.8,64.8L410.5,64.2L410.2,63.8L409.9,63.5L409.6,63.3L409.3,63.2M413.2,103.8L413.4,81.4L413.6,77.7L413.7,74.7L413.9,72.2L414.1,70.2L414.4,68.5L414.6,67.0L414.9,65.8L415.2,64.7L415.6,63.8L415.9,63.1L416.3,62.5L416.6,62.0L417.0,61.7L417.4,61.4L417.8,61.3L418.1,61.3M423.1,114.0L422.9,82.4L422.7,78.6L422.6,75.6L422.4,73.1L422.2,71.1L421.9,69.3L421.7,67.8L421.4,66.5L421.1,65.3L420.7,64.4L420.4,63.6L420.0,62.9L419.7,62.4L419.3,61.9L418.9,61.6L418.5,61.4L418.1,61.3M423.1,114.0L423.2,100.4L423.2,96.5L423.3,93.5L423.4,90.9L423.5,88.7L423.5,86.9L423.6,85.3L423.7,83.8L423.9,82.6L424.0,81.5L424.1,80.6L424.2,79.8L424.4,79.1L424.5,78.5L424.7,78.1L424.8,77.7L424.9,77.5L425.1,77.3L425.2,77.3M426.8,112.0L426.7,100.6L426.7,95.8L426.7,92.1L426.6,89.2L426.5,86.8L426.4,84.8L426.4,83.2L426.3,81.8L426.2,80.7L426.0,79.8L425.9,79.0L425.8,78.4L425.7,77.9L425.5,77.6L425.4,77.4L425.2,77.3M426.8,112.0L427.0,83.2L427.1,79.5L427.3,76.5L427.4,74.1L427.6,72.0L427.8,70.3L428.1,68.9L428.3,67.6L428.6,66.6L428.9,65.7L429.2,65.0L429.5,64.4L429.8,63.9L430.1,63.6L430.5,63.3L430.8,63.2L431.1,63.2M435.5,129.8L435.3,84.4L435.2,80.6L435.0,77.6L434.9,75.1L434.7,73.0L434.5,71.2L434.2,69.7L434.0,68.4L433.7,67.3L433.4,66.3L433.1,65.5L432.8,64.8L432.5,64.3L432.2,63.8L431.8,63.5L431.5,63.3L431.1,63.2M435.5,129.8L435.5,101.5L435.6,96.6L435.6,92.9L435.7,90.0L435.8,87.6L435.8,85.7L435.9,84.0L436.0,82.6L436.1,81.5L436.2,80.5L436.3,79.7L436.4,79.1L436.5,78.6L436.7,78.3L436.8,78.0L436.9,77.9M438.9,115.0L438.8,100.6L438.8,96.8L438.7,93.7L438.6,91.2L438.6,89.0L438.5,87.2L438.4,85.6L438.3,84.2L438.2,83.0L438.1,81.9L438.0,81.0L437.9,80.2L437.7,79.6L437.6,79.0L437.5,78.6L437.3,78.2L437.2,78.0L437.1,77.9L436.9,77.9M438.9,115.0L439.0,92.3L439.1,87.4L439.2,83.7L439.3,80.8L439.5,78.4L439.7,76.5L439.9,74.8L440.1,73.4L440.3,72.3L440.5,71.3L440.8,70.6L441.1,70.0L441.4,69.5L441.7,69.1L442.0,68.9L442.3,68.8M446.9,105.8L446.7,91.7L446.6,87.8L446.5,84.8L446.3,82.2L446.1,80.1L445.9,78.2L445.7,76.6L445.5,75.2L445.3,74.0L445.0,72.9L444.7,72.0L444.4,71.2L444.1,70.5L443.8,70.0L443.5,69.5L443.2,69.2L442.9,68.9L442.6,68.8L442.3,68.8M446.9,105.8L447.1,92.5L447.2,88.8L447.4,85.8L447.5,83.4L447.7,81.4L448.0,79.7L448.2,78.3L448.4,77.1L448.7,76.1L449.0,75.2L449.3,74.5L449.6,74.0L449.9,73.5L450.3,73.3L450.6,73.1L451.0,73.0M455.7,138.8L455.5,94.8L455.4,91.0L455.2,88.0L455.1,85.5L454.9,83.3L454.6,81.5L454.4,80.0L454.2,78.6L453.9,77.5L453.6,76.5L453.3,75.6L453.0,74.9L452.7,74.3L452.3,73.8L452.0,73.4L451.6,73.2L451.3,73.0L451.0,73.0M455.7,138.8L455.9,99.5L456.0,95.7L456.1,92.8L456.2,90.4L456.4,88.4L456.6,86.7L456.7,85.2L456.9,84.0L457.2,83.0L457.4,82.2L457.6,81.5L457.9,81.0L458.2,80.5L458.4,80.2L458.7,80.1L459.0,80.0M459.0,80.0L459.2,80.0L459.5,80.2L459.8,80.5L460.1,80.8L460.3,81.3L460.6,81.9L460.9,82.6L461.1,83.5L461.3,84.5L461.6,85.7L461.8,87.0L461.9,88.6L462.1,90.4L462.3,92.5L462.8,96.0L463.4,93.4L463.6,91.8L463.8,90.4L464.0,89.2L464.2,88.2L464.4,87.4L464.6,86.8L464.9,86.3L465.1,85.9L465.4,85.7L465.6,85.5L465.9,85.5L466.1,85.6L466.4,85.8L466.7,86.1L466.9,86.5L467.2,87.0L467.4,87.7L467.7,88.5L467.9,89.4L468.1,90.4L468.3,91.6L468.5,93.0L468.7,94.6L468.9,96.4L469.0,98.6L469.1,101.1L469.5,103.8L470.2,101.0L470.4,99.5L470.6,98.2L470.7,97.1L470.9,96.1L471.1,95.3L471.4,94.6L471.6,94.1L471.8,93.6L472.0,93.3L472.3,93.1L472.5,93.0L472.7,93.0L473.0,93.1L473.2,93.4L473.4,93.7L473.6,94.2L473.9,94.8L474.1,95.5L474.3,96.4L474.4,97.4L474.6,98.7L474.8,100.1L474.9,101.9L475.1,103.9L475.2,106.3L475.3,109.3L475.4,113.1L475.5,130.0" stroke="#0000ff" stroke-width="0.6" stroke-dasharray="1.8 1.6"/>
</g>
<g fill="none" stroke-width="0.6">
<path d="M410.8,257.5H454" stroke="#ff0000"/>
<path d="M410.8,273.5H454" stroke="#00ff00" stroke-dasharray="3 1.3"/>
<path d="M410.8,289.5H454" stroke="#0000ff" stroke-dasharray="1.8 1.6"/>
</g>
<path d="M81.60,19.30H473.00V302.00H81.60Z M81.60,281.81h2.2 M473.00,281.81h-2.2 M81.60,261.61h4.5 M473.00,261.61h-4.5 M81.60,241.42h2.2 M473.00,241.42h-2.2 M81.60,221.23h4.5 M473.00,221.23h-4.5 M81.60,201.04h2.2 M473.00,201.04h-2.2 M81.60,180.84h4.5 M473.00,180.84h-4.5 M81.60,160.65h2.2 M473.00,160.65h-2.2 M81.60,140.46h4.5 M473.00,140.46h-4.5 M81.60,120.26h2.2 M473.00,120.26h-2.2 M81.60,100.07h4.5 M473.00,100.07h-4.5 M81.60,79.88h2.2 M473.00,79.88h-2.2 M81.60,59.69h4.5 M473.00,59.69h-4.5 M81.60,39.49h2.2 M473.00,39.49h-2.2 M81.60,302.00v-2.2 M81.60,19.30v2.2 M103.31,302.00v-2.2 M103.31,19.30v2.2 M118.71,302.00v-2.2 M118.71,19.30v2.2 M130.65,302.00v-2.2 M130.65,19.30v2.2 M140.41,302.00v-2.2 M140.41,19.30v2.2 M148.66,302.00v-2.2 M148.66,19.30v2.2 M155.81,302.00v-2.2 M155.81,19.30v2.2 M162.12,302.00v-2.2 M162.12,19.30v2.2 M167.76,302.00v-4.5 M167.76,19.30v4.5 M204.86,302.00v-2.2 M204.86,19.30v2.2 M226.57,302.00v-2.2 M226.57,19.30v2.2 M241.97,302.00v-2.2 M241.97,19.30v2.2 M253.92,302.00v-2.2 M253.92,19.30v2.2 M263.68,302.00v-2.2 M263.68,19.30v2.2 M271.93,302.00v-2.2 M271.93,19.30v2.2 M279.08,302.00v-2.2 M279.08,19.30v2.2 M285.38,302.00v-2.2 M285.38,19.30v2.2 M291.02,302.00v-4.5 M291.02,19.30v4.5 M328.13,302.00v-2.2 M328.13,19.30v2.2 M349.84,302.00v-2.2 M349.84,19.30v2.2 M365.24,302.00v-2.2 M365.24,19.30v2.2 M377.18,302.00v-2.2 M377.18,19.30v2.2 M386.94,302.00v-2.2 M386.94,19.30v2.2 M395.19,302.00v-2.2 M395.19,19.30v2.2 M402.34,302.00v-2.2 M402.34,19.30v2.2 M408.65,302.00v-2.2 M408.65,19.30v2.2 M414.29,302.00v-4.5 M414.29,19.30v4.5 M451.39,302.00v-2.2 M451.39,19.30v2.2 M473.10,302.00v-2.2 M473.10,19.30v2.2" fill="none" stroke="#000" stroke-width="1"/>
</svg>
<div id="tx">
<div class="t yl" style="top:295.8px">10<span class="s">-10</span></div>
<div class="t yl" style="top:255.4px">10<span class="s">-8</span></div>
<div class="t yl" style="top:215.0px">10<span class="s">-6</span></div>
<div class="t yl" style="top:174.6px">10<span class="s">-4</span></div>
<div class="t yl" style="top:134.3px">10<span class="s">-2</span></div>
<div class="t yl" style="top:93.9px">10<span class="s">0</span></div>
<div class="t yl" style="top:53.5px">10<span class="s">2</span></div>
<div class="t yl" style="top:13.1px">10<span class="s">4</span></div>
<div class="t" style="left:139.8px;top:311.2px;width:60px;text-align:center">10</div>
<div class="t" style="left:263.0px;top:311.2px;width:60px;text-align:center">100</div>
<div class="t" style="left:386.3px;top:311.2px;width:60px;text-align:center">1000</div>
<div class="t it" style="left:272.5px;top:335.5px;width:10px;text-align:center">l</div>
<div class="t" style="left:93px;top:26px">TE, p=2</div>
<div class="t" style="right:99.0px;top:251.0px;text-align:right"><span class="sy al">&alpha;</span>=10<span class="s">-1</span></div>
<div class="t" style="right:99.0px;top:267.1px;text-align:right"><span class="sy al">&alpha;</span>=10<span class="s">-3</span></div>
<div class="t" style="right:99.0px;top:283.0px;text-align:right"><span class="sy al">&alpha;</span>=10<span class="s">-5</span></div>
<div class="t" style="left:16.5px;top:161px;letter-spacing:0.15px;transform:translate(-50%,-50%) rotate(-90deg);transform-origin:center"><span class="it">l</span>(<span class="it">l</span>+1)|C<span class="it sub">l</span>|/2<span class="sy">&pi;</span>[<span class="sy">&mu;</span>K<span class="s">2</span>]</div>
</div></div></body></html>
